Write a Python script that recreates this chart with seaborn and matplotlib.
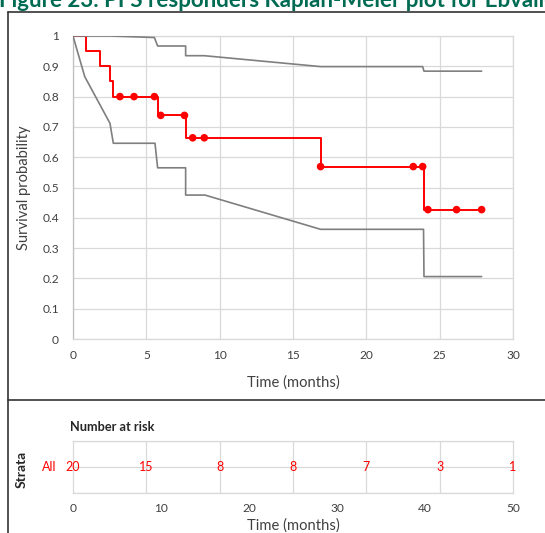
import numpy as np
import pandas as pd
import matplotlib
matplotlib.use("Agg")
import matplotlib.pyplot as plt
from matplotlib.lines import Line2D
import seaborn as sns

# ---------------- data ----------------
km_time = [0, 0.89, 1.84, 2.52, 2.75, 5.77, 7.68, 16.88, 23.93, 27.86]
km_surv = [1.0, 0.95, 0.90, 0.85, 0.80, 0.738, 0.664, 0.569, 0.427, 0.427]

cens_time = [3.2, 4.16, 5.55, 5.98, 7.6, 8.16, 8.95, 16.88, 23.2, 23.84, 24.2, 26.15, 27.86]
cens_surv = [0.80, 0.80, 0.80, 0.738, 0.738, 0.664, 0.664, 0.569, 0.569, 0.569, 0.427, 0.427, 0.427]

upper_time = [0, 2.52, 5.55, 5.77, 7.68, 7.68, 8.95, 16.88, 23.84, 23.93, 27.86]
upper_surv = [1.0, 1.0, 0.995, 0.967, 0.967, 0.935, 0.935, 0.899, 0.899, 0.884, 0.884]

lower_time = [0, 0.8, 2.52, 2.75, 5.59, 5.77, 7.68, 7.68, 9.0, 16.88, 23.9, 23.93, 27.86]
lower_surv = [1.0, 0.866, 0.712, 0.646, 0.646, 0.565, 0.565, 0.475, 0.475, 0.362, 0.362, 0.206, 0.206]

risk_time = [0, 5, 10, 15, 20, 25, 30]
risk_count = [20, 15, 8, 8, 7, 3, 1]
risk_tick_labels = ["0", "10", "20", "30", "40", "50"]

x_ticks = [0, 5, 10, 15, 20, 25, 30]
y_ticks = [0, 0.1, 0.2, 0.3, 0.4, 0.5, 0.6, 0.7, 0.8, 0.9, 1.0]
y_tick_labels = ["0", "0.1", "0.2", "0.3", "0.4", "0.5", "0.6", "0.7", "0.8", "0.9", "1"]

title = "Figure 23: PFS responders Kaplan-Meier plot for Ebvallo (tabelecleucel)"

# ---------------- style ----------------
sns.set_theme(style="white")
plt.rcParams["font.family"] = ["Lato", "DejaVu Sans"]

W, H = 545, 533
fig = plt.figure(figsize=(W / 100, H / 100), dpi=100)

def fx(px):
    return px / W

def fy(py):
    return 1 - py / H

GRID = "#d9d9d9"
TXT = "#404040"
GRAY = "#7f7f7f"
RED = "#ff0000"
TICK_FS = 8.6
LABEL_FS = 10.6

# ---------------- main KM axes ----------------
ax = fig.add_axes([fx(73), fy(339), fx(513) - fx(73), fy(36) - fy(339)])

sns.lineplot(x=km_time, y=km_surv, ax=ax, color=RED, lw=1.4,
             drawstyle="steps-post", estimator=None, sort=False, zorder=3)
sns.scatterplot(x=cens_time, y=cens_surv, ax=ax, color=RED, s=30,
                edgecolor="none", zorder=4)
sns.lineplot(x=upper_time, y=upper_surv, ax=ax, color=GRAY, lw=1.2,
             estimator=None, sort=False, zorder=5)
sns.lineplot(x=lower_time, y=lower_surv, ax=ax, color=GRAY, lw=1.2,
             estimator=None, sort=False, zorder=5)

ax.set_xlim(0, 30)
ax.set_ylim(0, 1)
ax.set_xticks(x_ticks)
ax.set_xticklabels([str(t) for t in x_ticks])
ax.set_yticks(y_ticks)
ax.set_yticklabels(y_tick_labels)
ax.grid(True, color=GRID, lw=0.9)
ax.set_axisbelow(True)
ax.tick_params(length=0, labelsize=TICK_FS, colors=TXT)
ax.tick_params(axis="x", pad=8)
ax.tick_params(axis="y", pad=10)
for s in ax.spines.values():
    s.set_color(GRID)
    s.set_linewidth(0.9)
ax.spines["left"].set_color("#bfbfbf")
ax.set_xlabel("Time (months)", fontsize=LABEL_FS, color=TXT, labelpad=10)
ax.set_ylabel("Survival probability", fontsize=LABEL_FS, color=TXT, labelpad=8)

# ---------------- number at risk axes ----------------
rax = fig.add_axes([fx(73), fy(493), fx(513) - fx(73), fy(441) - fy(493)])
rax.set_xlim(0, 30)
rax.set_ylim(-1, 1)
rax.set_xticks(np.linspace(0, 30, len(risk_tick_labels)))
rax.set_xticklabels(risk_tick_labels)
rax.set_xticks(risk_time, minor=True)
rax.set_yticks([-1, 0, 1])
rax.set_yticklabels([])
rax.grid(False)
rax.grid(True, which="minor", axis="x", color=GRID, lw=0.9)
rax.grid(True, which="major", axis="y", color=GRID, lw=0.9)
rax.tick_params(which="both", length=0, labelsize=TICK_FS, colors=TXT)
rax.tick_params(axis="x", pad=7)
for s in rax.spines.values():
    s.set_color(GRID)
    s.set_linewidth(0.9)
rax.set_xlabel("Time (months)", fontsize=LABEL_FS, color=TXT, labelpad=3)
for t, n in zip(risk_time, risk_count):
    rax.text(t, 0, str(n), ha="center", va="center", color=RED, fontsize=9)

fig.text(fx(70), fy(427), "Number at risk", ha="left", va="center",
         fontsize=9.2, fontweight="bold", color="#262626")
fig.text(fx(49), fy(467), "All", ha="center", va="center", fontsize=9, color=RED)
fig.text(fx(21.5), fy(469), "Strata", ha="center", va="center", rotation=90,
         fontsize=10, fontweight="bold", color="#262626")

# ---------------- frame & title ----------------
LC = "#333333"
fig.add_artist(Line2D([fx(7.5), fx(7.5)], [fy(11.7), fy(533)], color=LC, lw=1.2))
fig.add_artist(Line2D([fx(7.5), 1], [fy(11.7), fy(11.7)], color=LC, lw=1.2))
fig.add_artist(Line2D([fx(7.5), 1], [fy(400), fy(400)], color=LC, lw=1.2))
fig.text(fx(-1), fy(7), title, ha="left", va="baseline", fontsize=16,
         fontweight="bold", color="#006b53")

fig.savefig("out.png", dpi=100)
